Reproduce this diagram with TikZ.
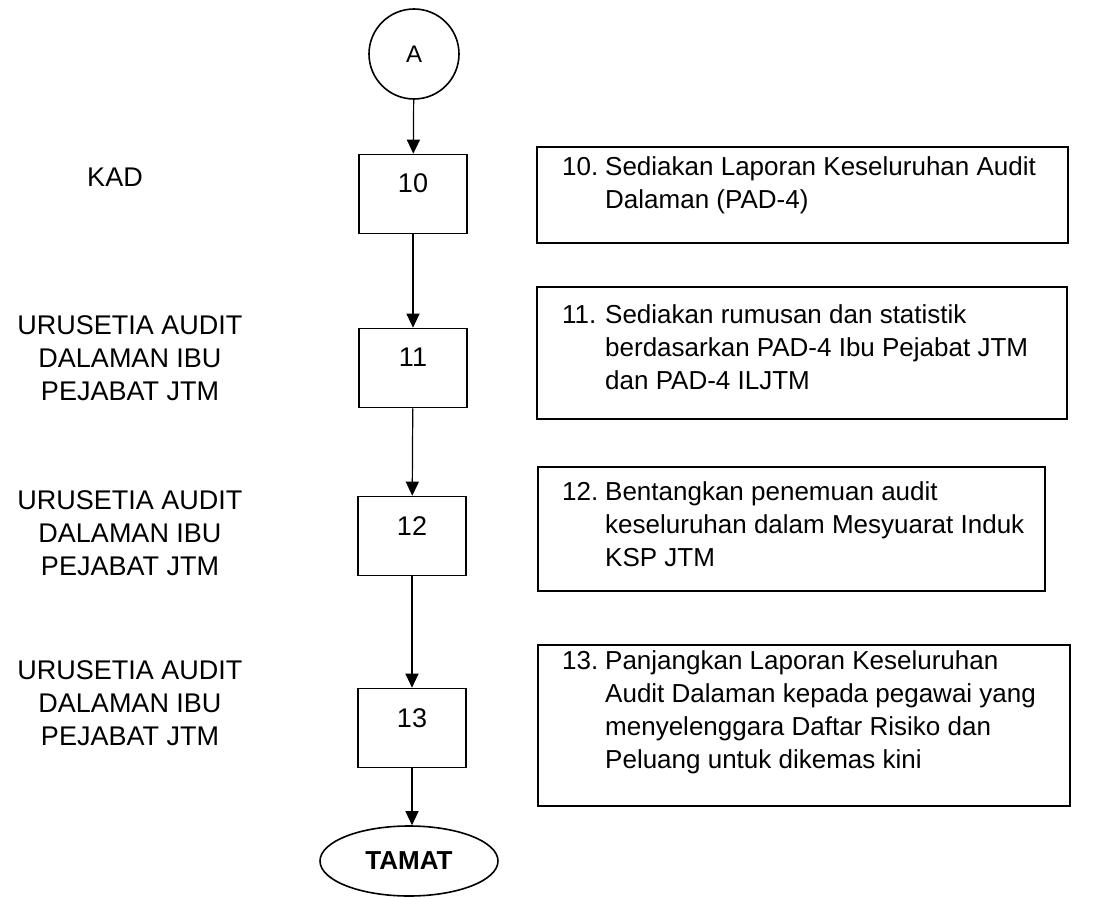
\documentclass[tikz,border=0pt]{standalone}
\usepackage{fontspec}
\setmainfont{Liberation Sans}
\usetikzlibrary{arrows.meta,shapes.geometric}
\tikzset{
  numbox/.style={draw, line width=1.6pt, minimum width=108pt, minimum height=79pt, inner sep=0pt},
  txtbox/.style={draw, line width=1.6pt, inner sep=0pt},
  arr/.style={line width=1.2pt, -{Triangle[length=14pt,width=13pt]}},
  lbl/.style={align=center, font=\fontsize{27}{33}\selectfont, inner sep=0pt},
  rtxt/.style={anchor=base west, inner sep=0pt, font=\fontsize{26}{33}\selectfont},
  num/.style={inner sep=0pt, font=\fontsize{27}{33}\selectfont}
}
\newcommand{\steptext}[2]{\begin{tabular}[t]{@{}p{43pt}@{}l@{}}#1 & #2\end{tabular}}
\begin{document}
\begin{tikzpicture}[x=1pt,y=-1pt]
\useasboundingbox (0,0) rectangle (1098,899);
% connector start
\node[draw, circle, line width=1.6pt, minimum size=90pt, inner sep=0pt, font=\fontsize{24}{28}\selectfont] (A) at (414,54) {A};
% left boxes
\node[numbox] (b10) at (413,194) {};
\node[numbox] (b11) at (413,368) {};
\node[numbox] (b12) at (412,536) {};
\node[numbox] (b13) at (412,728) {};
\node[num] (n10) at ([yshift=-30pt]b10.north) {10};
\node[num] (n11) at ([yshift=-30pt]b11.north) {11};
\node[num] (n12) at ([yshift=-30pt]b12.north) {12};
\node[num] (n13) at ([yshift=-30pt]b13.north) {13};
% end
\node[draw, ellipse, line width=1.6pt, minimum width=178pt, minimum height=70pt, inner sep=0pt, font=\bfseries\fontsize{26}{30}\selectfont] (tamat) at (409,861) {TAMAT};
% arrows
\draw[arr] (A) -- (b10);
\draw[arr] (b10) -- (b11);
\draw[arr] (b11) -- (b12);
\draw[arr] (b12) -- (b13);
\draw[arr] (b13.south) -- (b13.south |- tamat.north);
% left labels
\node[lbl] (l10) at (115,177) {KAD};
\node[lbl] (l11) at (130,358) {URUSETIA AUDIT\\DALAMAN IBU\\PEJABAT JTM};
\node[lbl] (l12) at (130,533) {URUSETIA AUDIT\\DALAMAN IBU\\PEJABAT JTM};
\node[lbl] (l13) at (130,703) {URUSETIA AUDIT\\DALAMAN IBU\\PEJABAT JTM};
% right boxes
\node[txtbox, minimum width=531pt, minimum height=96pt] (r10) at (802.5,195) {};
\node[txtbox, minimum width=530pt, minimum height=132pt] (r11) at (802,353) {};
\node[txtbox, minimum width=507pt, minimum height=124pt] (r12) at (791.5,529) {};
\node[txtbox, minimum width=532pt, minimum height=161pt] (r13) at (804,725.5) {};
\node[rtxt] (t10) at (562,175) {\steptext{10.}{Sediakan Laporan Keseluruhan Audit\\ & Dalaman (PAD-4)}};
\node[rtxt] (t11) at (562,323) {\steptext{11.}{Sediakan rumusan dan statistik\\ & berdasarkan PAD-4 Ibu Pejabat JTM\\ & dan PAD-4 ILJTM}};
\node[rtxt] (t12) at (562,500) {\steptext{12.}{Bentangkan penemuan audit\\ & keseluruhan dalam Mesyuarat Induk\\ & KSP JTM}};
\node[rtxt] (t13) at (562,669) {\steptext{13.}{Panjangkan Laporan Keseluruhan\\ & Audit Dalaman kepada pegawai yang\\ & menyelenggara Daftar Risiko dan\\ & Peluang untuk dikemas kini}};
\end{tikzpicture}
\end{document}
